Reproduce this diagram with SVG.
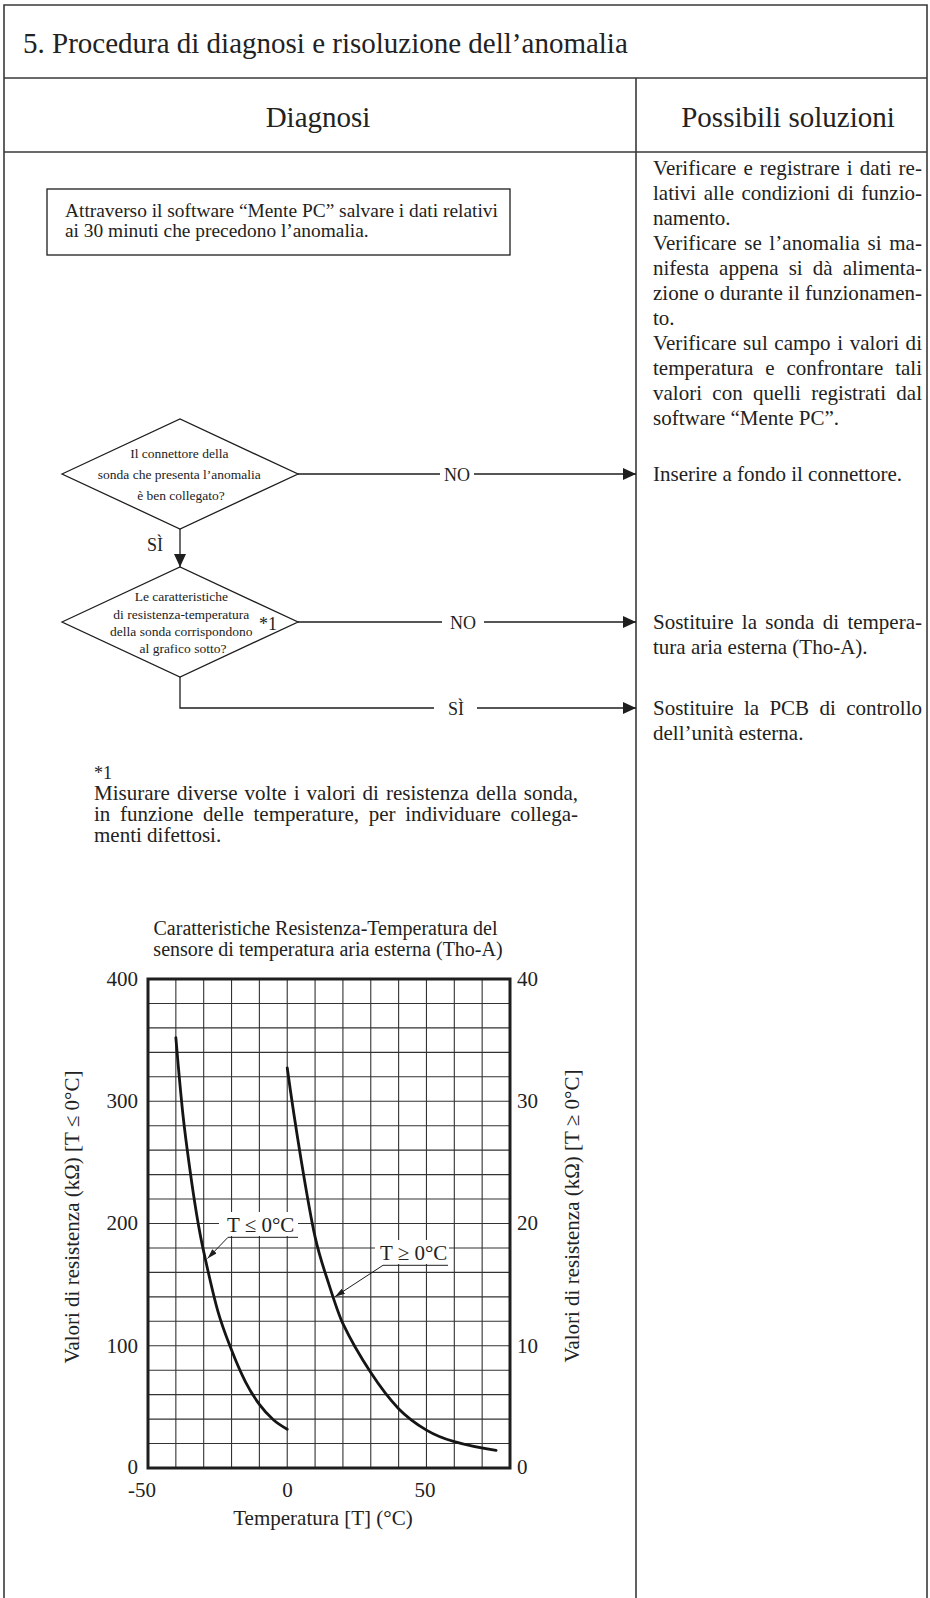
<svg xmlns="http://www.w3.org/2000/svg" width="930" height="1598" viewBox="0 0 930 1598">
  <defs>
    <style>
      .txt { font-family: "Liberation Serif", "Times New Roman", serif; fill: #222; }
      .frame { stroke: #3a3a3a; stroke-width: 1.6; fill: none; }
      .conn { stroke: #1e1e1e; stroke-width: 1.3; fill: none; }
      .shape { stroke: #1e1e1e; stroke-width: 1.3; fill: #fff; }
      .grid { stroke: #333; stroke-width: 1.1; fill: none; }
      .axis { stroke: #1e1e1e; stroke-width: 3; fill: none; }
      .curve { stroke: #151515; stroke-width: 2.8; fill: none; stroke-linecap: round; stroke-linejoin: round; }
      .thin { stroke: #1e1e1e; stroke-width: 1; fill: none; }
    </style>
    <marker id="arrow" markerUnits="userSpaceOnUse" markerWidth="13" markerHeight="12" refX="13" refY="6" orient="auto">
      <path d="M0,0 L13,6 L0,12 z" fill="#1e1e1e"/>
    </marker>
    <marker id="leader" markerUnits="userSpaceOnUse" markerWidth="10" markerHeight="6" refX="10" refY="3" orient="auto">
      <path d="M0,0 L10,3 L0,6 z" fill="#1e1e1e"/>
    </marker>
  </defs>

  <rect width="930" height="1598" fill="#fff"/>

  <!-- table frame and headings -->
  <g id="table">
    <path class="frame" d="M4,1598 V5 H927 V1598 M4,78 H927 M4,152 H927 M636,78 V1598"/>
    <text class="txt" x="23" y="53" font-size="29">5. Procedura di diagnosi e risoluzione dell’anomalia</text>
    <text class="txt" x="318" y="127" font-size="29" text-anchor="middle">Diagnosi</text>
    <text class="txt" x="788" y="127" font-size="29" text-anchor="middle">Possibili soluzioni</text>
  </g>

  <!-- step: save data -->
  <g id="n-save">
    <rect class="shape" x="47" y="189" width="463" height="66" stroke-width="1.5"/>
    <text class="txt" x="65" y="217" font-size="19.4">Attraverso il software “Mente PC” salvare i dati relativi</text>
    <text class="txt" x="65" y="237" font-size="19.4">ai 30 minuti che precedono l’anomalia.</text>
  </g>

  <!-- decision: connector -->
  <g id="n-connector-check">
    <polygon class="shape" points="62,474 180,419 298,474 180,529"/>
    <text class="txt" font-size="13.5" text-anchor="middle">
      <tspan x="181" y="458">Il connettore della</tspan>
      <tspan x="181" y="479">sonda che presenta l’anomalia</tspan>
      <tspan x="181" y="500">è ben collegato?</tspan>
    </text>
  </g>

  <!-- decision: resistance curve -->
  <g id="n-curve-check">
    <polygon class="shape" points="62,622 180,567 298,622 180,677"/>
    <text class="txt" font-size="13.5" text-anchor="middle">
      <tspan x="183" y="601">Le caratteristiche</tspan>
      <tspan x="183" y="619">di resistenza-temperatura</tspan>
      <tspan x="183" y="636">della sonda corrispondono</tspan>
      <tspan x="183" y="653">al grafico sotto?</tspan>
    </text>
    <text class="txt" x="259" y="630" font-size="18">*1</text>
  </g>

  <!-- connectors -->
  <g id="connectors">
    <path class="conn" d="M298,474 H440"/>
    <path class="conn" d="M474,474 H636" marker-end="url(#arrow)"/>
    <path class="conn" d="M180,529 V567" marker-end="url(#arrow)"/>
    <path class="conn" d="M298,622 H442"/>
    <path class="conn" d="M484,622 H636" marker-end="url(#arrow)"/>
    <path class="conn" d="M180,677 V708 H434"/>
    <path class="conn" d="M477,708 H636" marker-end="url(#arrow)"/>
    <text class="txt" x="457" y="481" font-size="18" text-anchor="middle">NO</text>
    <text class="txt" x="463" y="629" font-size="18" text-anchor="middle">NO</text>
    <text class="txt" x="155" y="551" font-size="18" text-anchor="middle">SÌ</text>
    <text class="txt" x="456" y="715" font-size="18" text-anchor="middle">SÌ</text>
  </g>

  <!-- solutions column (justified: word gaps widened, length pinned) -->
  <g id="n-sol-check">
    <text class="txt" font-size="21">
      <tspan x="653" y="175" textLength="269" word-spacing="1.7">Verificare e registrare i dati re-</tspan>
      <tspan x="653" y="200" textLength="269" word-spacing="2.2">lativi alle condizioni di funzio-</tspan>
      <tspan x="653" y="225">namento.</tspan>
      <tspan x="653" y="250" textLength="269" word-spacing="2.2">Verificare se l’anomalia si ma-</tspan>
      <tspan x="653" y="275" textLength="269" word-spacing="4.8">nifesta appena si dà alimenta-</tspan>
      <tspan x="653" y="300" textLength="269">zione o durante il funzionamen-</tspan>
      <tspan x="653" y="325">to.</tspan>
      <tspan x="653" y="350" textLength="269" word-spacing="1.2">Verificare sul campo i valori di</tspan>
      <tspan x="653" y="375" textLength="269" word-spacing="6.6">temperatura e confrontare tali</tspan>
      <tspan x="653" y="400" textLength="269" word-spacing="5.1">valori con quelli registrati dal</tspan>
      <tspan x="653" y="425">software “Mente PC”.</tspan>
    </text>
  </g>
  <g id="n-sol-connector">
    <text class="txt" x="653" y="481" font-size="21">Inserire a fondo il connettore.</text>
  </g>
  <g id="n-sol-sensor">
    <text class="txt" font-size="21">
      <tspan x="653" y="629" textLength="269" word-spacing="3.1">Sostituire la sonda di tempera-</tspan>
      <tspan x="653" y="654">tura aria esterna (Tho-A).</tspan>
    </text>
  </g>
  <g id="n-sol-pcb">
    <text class="txt" font-size="21">
      <tspan x="653" y="715" textLength="269" word-spacing="5.1">Sostituire la PCB di controllo</tspan>
      <tspan x="653" y="740">dell’unità esterna.</tspan>
    </text>
  </g>

  <!-- footnote -->
  <g id="n-note">
    <text class="txt" font-size="21">
      <tspan x="94" y="779" font-size="18">*1</tspan>
      <tspan x="94" y="800" textLength="484" word-spacing="1.8">Misurare diverse volte i valori di resistenza della sonda,</tspan>
      <tspan x="94" y="821" textLength="484" word-spacing="4.4">in funzione delle temperature, per individuare collega-</tspan>
      <tspan x="94" y="842">menti difettosi.</tspan>
    </text>
  </g>

  <!-- resistance / temperature chart -->
  <g id="n-chart">
    <text class="txt" font-size="20" text-anchor="middle">
      <tspan x="328" y="935">Caratteristiche Resistenza-Temperatura del</tspan>
      <tspan x="328" y="956">sensore di temperatura aria esterna (Tho-A)</tspan>
    </text>

    <path class="grid" d="M175.85,979V1468 M203.69,979V1468 M231.54,979V1468 M259.38,979V1468 M287.23,979V1468 M315.08,979V1468 M342.92,979V1468 M370.77,979V1468 M398.62,979V1468 M426.46,979V1468 M454.31,979V1468 M482.15,979V1468
      M148,1003.45H510 M148,1027.9H510 M148,1052.35H510 M148,1076.8H510 M148,1101.25H510 M148,1125.7H510 M148,1150.15H510 M148,1174.6H510 M148,1199.05H510 M148,1223.5H510 M148,1247.95H510 M148,1272.4H510 M148,1296.85H510 M148,1321.3H510 M148,1345.75H510 M148,1370.2H510 M148,1394.65H510 M148,1419.1H510 M148,1443.55H510"/>
    <rect class="axis" x="148" y="979" width="362" height="489"/>

    <!-- T <= 0 °C branch, left scale (0-400 kOhm) -->
    <path class="curve" d="M175.85,1037.7 C178.17,1065.2 180.49,1091.7 182.81,1113.5 C185.13,1135.3 187.45,1151.6 189.77,1168.5 C192.09,1185.4 194.41,1201.05 196.73,1214.9 C199.05,1228.75 201.37,1241 203.69,1251.6 C208.33,1272.8 212.98,1293.9 217.62,1310.3 C222.26,1326.7 226.9,1338.1 231.54,1350 C236.18,1361.9 240.82,1372.7 245.46,1381.8 C250.1,1390.9 254.74,1398.1 259.38,1404.4 C264.02,1410.7 268.67,1415.6 273.31,1419.7 C277.95,1423.8 282.59,1426.5 287.23,1429.2"/>
    <!-- T >= 0 °C branch, right scale (0-40 kOhm) -->
    <path class="curve" d="M287.23,1067.8 C291.87,1101.97 296.51,1131.72 301.15,1159.9 C305.79,1188.08 310.44,1216.12 315.08,1236.9 C319.72,1257.68 324.36,1270.13 329,1284.6 C333.64,1299.07 338.28,1313.92 342.92,1323.7 C352.2,1343.26 361.49,1358.43 370.77,1372.6 C380.05,1386.77 389.34,1399.12 398.62,1408.7 C407.9,1418.28 417.18,1424.6 426.46,1430.1 C435.74,1435.6 445.03,1439.01 454.31,1441.7 C468.24,1445.74 482.16,1448.3 496.08,1450.3"/>

    <!-- curve tags -->
    <rect x="219" y="1212" width="79" height="24" fill="#fff"/>
    <text class="txt" x="227" y="1232" font-size="21">T ≤ 0°C</text>
    <path class="thin" d="M298,1237.3 H228 L207.5,1258.5" marker-end="url(#leader)"/>
    <rect x="375" y="1240" width="74" height="24" fill="#fff"/>
    <text class="txt" x="380" y="1260" font-size="21">T ≥ 0°C</text>
    <path class="thin" d="M448,1265.3 H383 L335,1296.7" marker-end="url(#leader)"/>

    <!-- left scale -->
    <g class="txt" font-size="21" text-anchor="end">
      <text x="138" y="986">400</text>
      <text x="138" y="1108">300</text>
      <text x="138" y="1230">200</text>
      <text x="138" y="1353">100</text>
      <text x="138" y="1473.5">0</text>
    </g>
    <!-- right scale -->
    <g class="txt" font-size="21">
      <text x="517" y="986">40</text>
      <text x="517" y="1108">30</text>
      <text x="517" y="1230">20</text>
      <text x="517" y="1353">10</text>
      <text x="517" y="1473.5">0</text>
    </g>
    <!-- temperature scale -->
    <g class="txt" font-size="21" text-anchor="middle">
      <text x="142" y="1497">-50</text>
      <text x="287.5" y="1497">0</text>
      <text x="425" y="1497">50</text>
      <text x="323" y="1525">Temperatura [T] (°C)</text>
    </g>
    <text class="txt" font-size="21" text-anchor="middle" transform="translate(79,1217) rotate(-90)">Valori di resistenza (kΩ) [T ≤ 0°C]</text>
    <text class="txt" font-size="21" text-anchor="middle" transform="translate(579,1216) rotate(-90)">Valori di resistenza (kΩ) [T ≥ 0°C]</text>
  </g>
</svg>
